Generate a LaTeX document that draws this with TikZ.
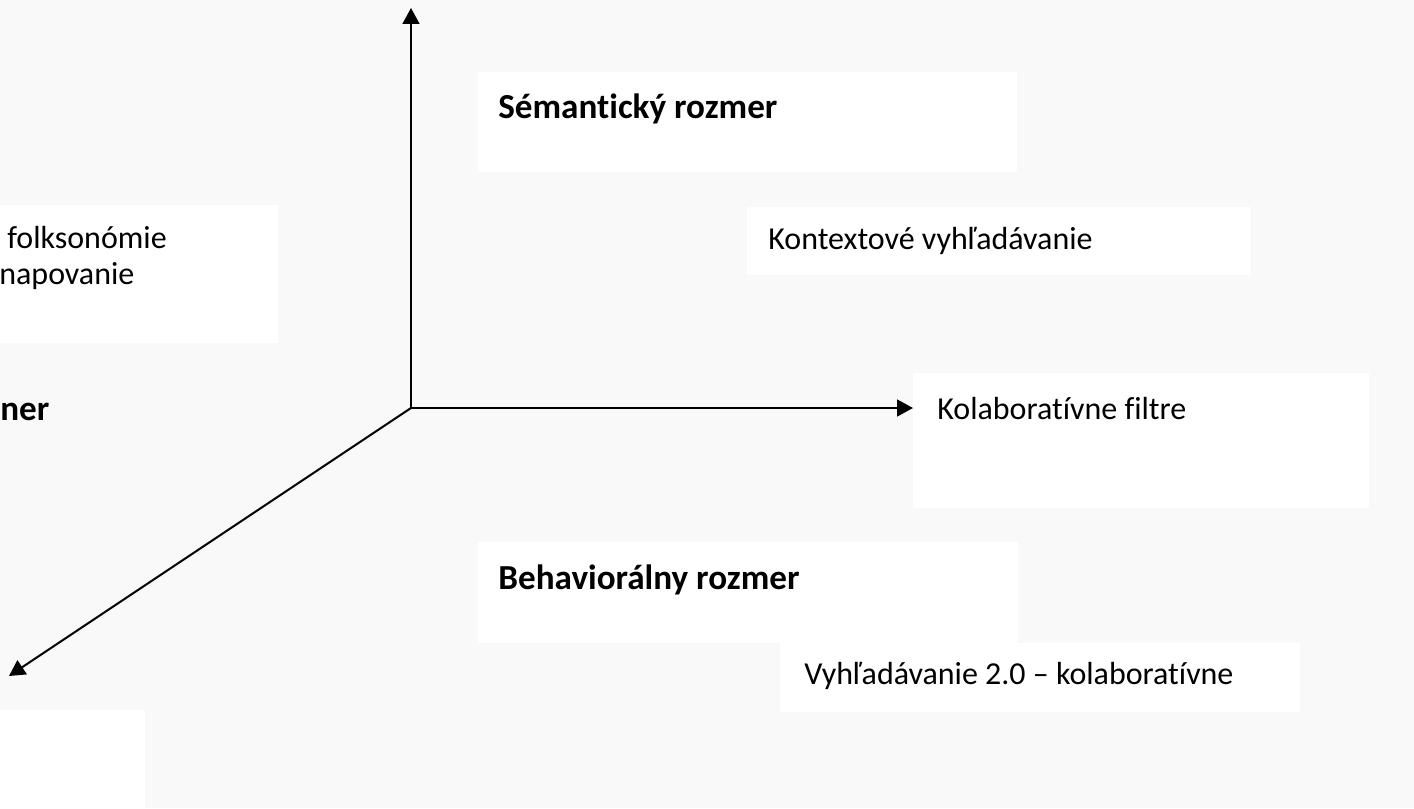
\documentclass[tikz,border=0pt]{standalone}
\usepackage{fontspec}
\setmainfont{Carlito}[Ligatures=NoCommon]
\usetikzlibrary{arrows.meta}
\definecolor{zigzag}{RGB}{249,249,249}

\begin{document}
\begin{tikzpicture}[x=0.2mm, y=-0.2mm,
        plain/.style={anchor=base west, inner sep=0pt, font=\fontsize{18.2}{21}\selectfont},
        heading/.style={anchor=base west, inner sep=0pt, font=\fontsize{20}{24}\selectfont\bfseries},
        axis/.style={-{Triangle[length=9pt,width=9.5pt]}, line width=1.15pt}]
        \useasboundingbox (0, 0) rectangle (1414, 808);
        \fill[zigzag] (0, 0) rectangle (1414, 808);

        % white text fields
        \fill[white] (0, 205) rectangle (278, 343);
        \fill[white] (478, 72) rectangle (1017, 172);
        \fill[white] (747, 207) rectangle (1251, 275);
        \fill[white] (913, 373) rectangle (1369, 508);
        \fill[white] (478, 542) rectangle (1018, 643);
        \fill[white] (780, 643) rectangle (1300, 712);
        \fill[white] (0, 710) rectangle (145, 808);

        % texts
        \node[plain] (folk) at (7, 248) {folksonómie};
        \node[plain] (mapping) at (-1, 284) {napovanie};
        \node[heading] (social) at (0, 420) {ner};
        \node[heading] (semantic) at (498, 119) {Sémantický rozmer};
        \node[plain] (context) at (768, 249) {Kontextové vyhľadávanie};
        \node[plain] (collab) at (937, 419) {Kolaboratívne filtre};
        \node[heading] (behav) at (498, 589) {Behaviorálny rozmer};
        \node[plain] (search) at (804, 684) {Vyhľadávanie 2.0 – kolaboratívne};

        % axes
        \coordinate (origin) at (411, 408);
        \coordinate (ytip) at (411, 8);
        \coordinate (xtip) at (913, 408);
        \coordinate (ztip) at (9, 676);
        \draw[axis] (origin) -- (ytip);
        \draw[axis] (origin) -- (xtip);
        \draw[axis] (origin) -- (ztip);
\end{tikzpicture}
\end{document}
